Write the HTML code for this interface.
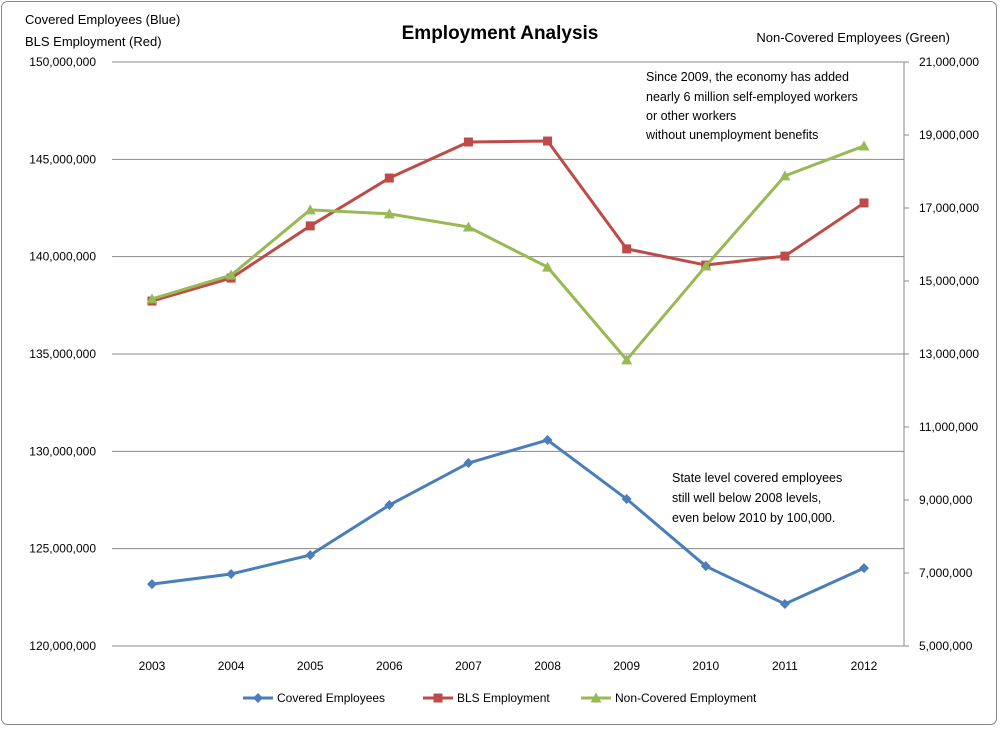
<!DOCTYPE html>
<html><head><meta charset="utf-8"><style>
html,body{margin:0;padding:0;background:#fff;}
body{width:1000px;height:727px;overflow:hidden;font-family:"Liberation Sans",sans-serif;}
svg text{font-family:"Liberation Sans",sans-serif;fill:#000;}
</style></head><body>
<svg id="chart" width="1000" height="727">
<rect x="1.5" y="1.5" width="995" height="723" rx="6" fill="#fff" stroke="#888"/>
<text x="25" y="24" font-size="13">Covered Employees (Blue)</text>
<text x="25" y="46" font-size="13">BLS Employment  (Red)</text>
<text x="500" y="39" font-size="19" font-weight="bold" text-anchor="middle">Employment Analysis</text>
<text x="950" y="42" font-size="13" text-anchor="end">Non-Covered  Employees (Green)</text>
<g id="grid"></g><g id="series"></g>
<text font-size="12.5">
<tspan x="646" y="81">Since 2009, the economy  has added</tspan>
<tspan x="646" y="101">nearly 6 million self-employed workers</tspan>
<tspan x="646" y="120">or other workers</tspan>
<tspan x="646" y="139">without unemployment  benefits</tspan></text>
<text font-size="12.5">
<tspan x="672" y="482">State level covered employees</tspan>
<tspan x="672" y="502">still well below 2008 levels,</tspan>
<tspan x="672" y="522">even below 2010 by 100,000.</tspan></text>
<g id="legend"></g>
</svg>
<script>
const categories=["2003","2004","2005","2006","2007","2008","2009","2010","2011","2012"];
const coveredEmployees=[123180000,123700000,124670000,127240000,129400000,130580000,127550000,124100000,122160000,124000000];
const blsEmployment=[137720000,138900000,141580000,144040000,145890000,145940000,140400000,139570000,140030000,142760000];
const nonCovered=[14510000,15160000,16950000,16840000,16480000,15380000,12840000,15410000,17880000,18700000];
const leftTicks=[120000000,125000000,130000000,135000000,140000000,145000000,150000000];
const rightTicks=[5000000,7000000,9000000,11000000,13000000,15000000,17000000,19000000,21000000];
const NS="http://www.w3.org/2000/svg";
const L=112,R=904,T=62,B=646;
const x=i=>152+i*(864-152)/(categories.length-1);
const yL=v=>B-(v-120000000)/30000000*(B-T);
const yR=v=>B-(v-5000000)/16000000*(B-T);
const fmt=v=>v.toLocaleString('en-US');
function mk(tag,attrs,parent){const e=document.createElementNS(NS,tag);for(const k in attrs)e.setAttribute(k,attrs[k]);parent.appendChild(e);return e;}
const grid=document.getElementById('grid'),ser=document.getElementById('series'),leg=document.getElementById('legend');
leftTicks.forEach(v=>{
 const ln=mk('line',{x1:L,x2:R,y1:yL(v),y2:yL(v),stroke:'#888','stroke-width':1},grid);
 
 
 const t=mk('text',{x:96,y:yL(v)+4,'font-size':12,'text-anchor':'end'},grid);t.textContent=fmt(v);
 
 
});
const ax=mk('line',{x1:R,x2:R,y1:T,y2:B,stroke:'#888'},grid);


rightTicks.forEach(v=>{
 mk('line',{x1:R,x2:R+5,y1:yR(v),y2:yR(v),stroke:'#888'},grid);
 const t=mk('text',{x:919,y:yR(v)+4,'font-size':12},grid);t.textContent=fmt(v);
 
 
});
categories.forEach((c,i)=>{
 const t=mk('text',{x:x(i),y:670,'font-size':12,'text-anchor':'middle'},grid);t.textContent=c;
 
 
});
function marker(shape,cx,cy,col,g){
 if(shape==='d')return mk('path',{d:`M${cx} ${cy-5}L${cx+5} ${cy}L${cx} ${cy+5}L${cx-5} ${cy}Z`,fill:col},g);
 if(shape==='s')return mk('rect',{x:cx-4.5,y:cy-4.5,width:9,height:9,fill:col},g);
 return mk('path',{d:`M${cx} ${cy-5.5}L${cx+5.5} ${cy+4.5}L${cx-5.5} ${cy+4.5}Z`,fill:col},g);
}
function series(vals,yf,col,shape,name){
 const g=mk('g',{},ser);
 
 
 mk('polyline',{points:vals.map((v,i)=>x(i)+','+yf(v)).join(' '),fill:'none',stroke:col,'stroke-width':3,'stroke-linejoin':'round'},g);
 vals.forEach((v,i)=>{const m=marker(shape,x(i),yf(v),col,g);
  
  });
}
series(coveredEmployees,yL,'#4a7ebb','d','covered-employees');
series(blsEmployment,yL,'#be4b48','s','bls-employment');
series(nonCovered,yR,'#98b954','t','non-covered');
[["Covered Employees",'#4a7ebb','d',243],["BLS Employment",'#be4b48','s',423],["Non-Covered Employment",'#98b954','t',581]].forEach(([n,c,s,lx])=>{
 const g=mk('g',{},leg);
 
 
 mk('line',{x1:lx,x2:lx+30,y1:698,y2:698,stroke:c,'stroke-width':3},g);
 marker(s,lx+15,698,c,g);
 const t=mk('text',{x:lx+34,y:702,'font-size':12},g);t.textContent=n;
});
</script>
</body></html>
